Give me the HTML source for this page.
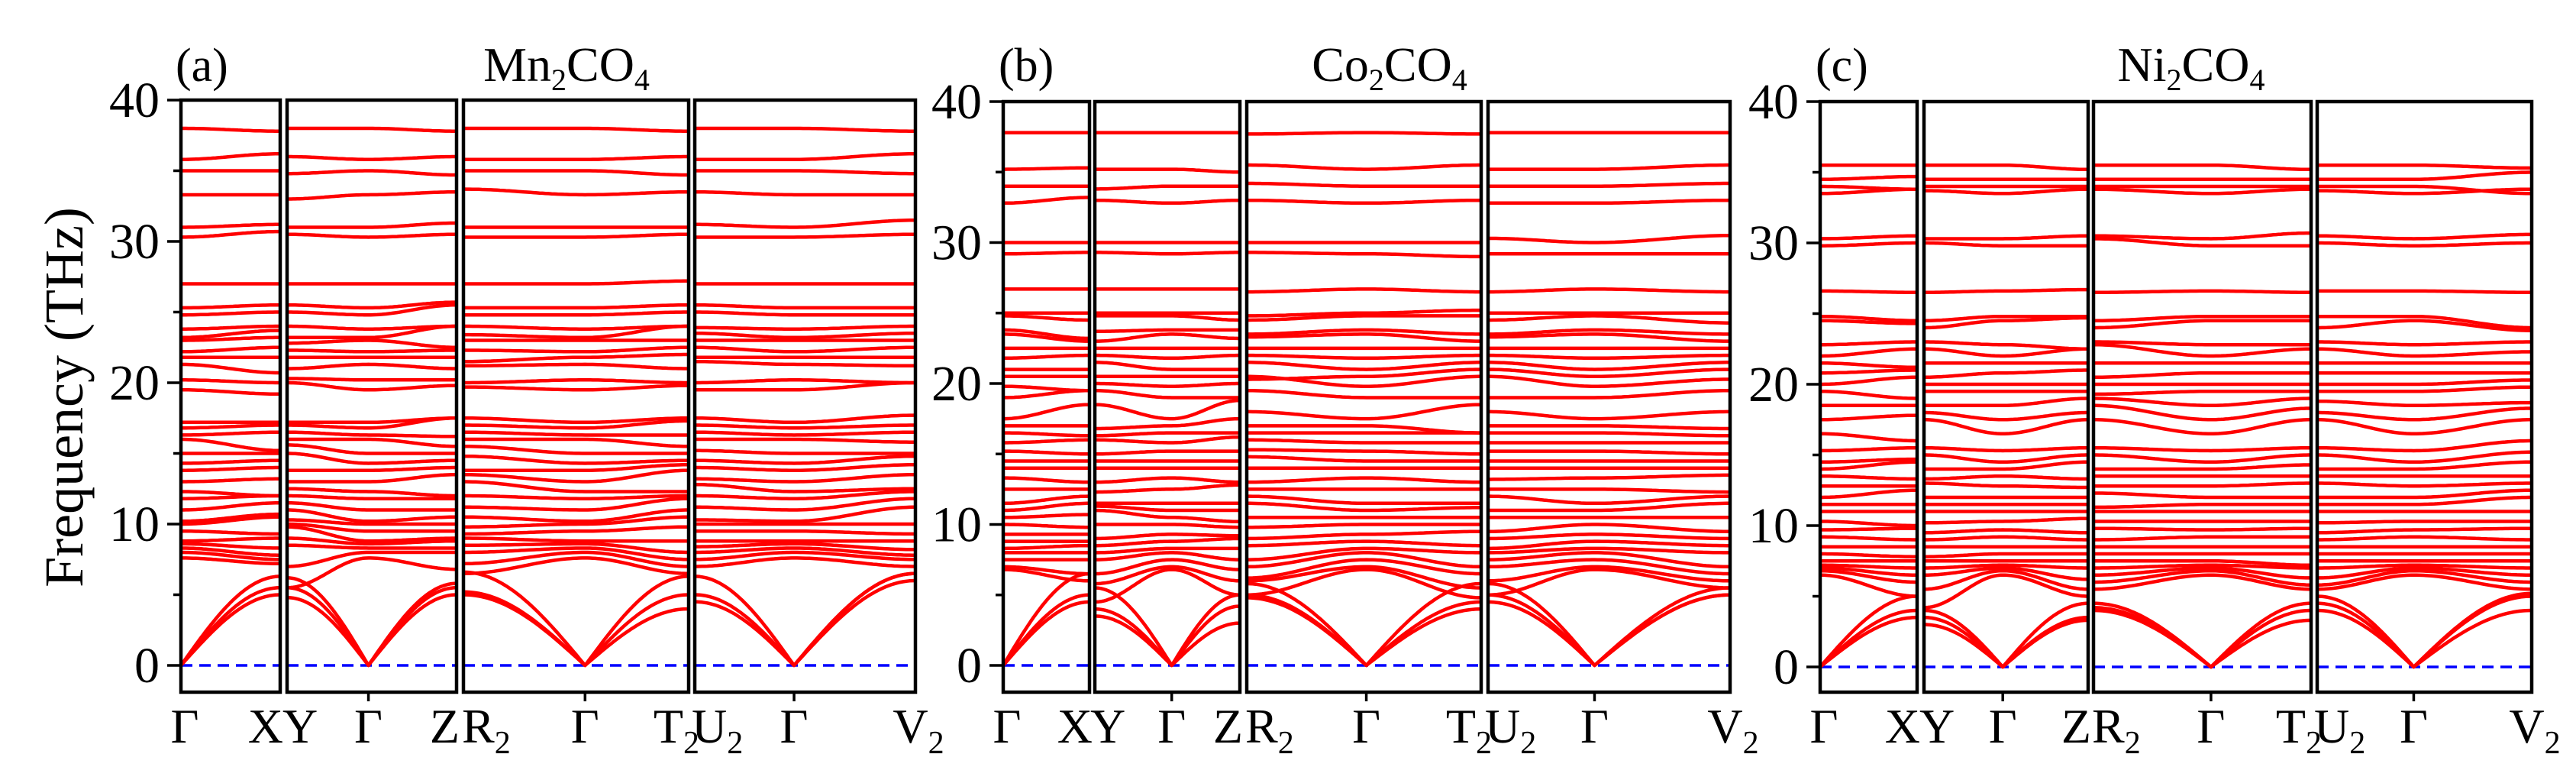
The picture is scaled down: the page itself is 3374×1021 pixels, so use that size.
<!DOCTYPE html>
<html><head><meta charset="utf-8"><style>
html,body{margin:0;padding:0;background:#fff}
svg{display:block}
text{font-family:"Liberation Serif",serif;fill:#000}
</style></head><body>
<svg id="chart" width="3374" height="1021" viewBox="0 0 3374 1021" xmlns="http://www.w3.org/2000/svg">
<text x="84" y="520" font-size="72" text-anchor="middle" transform="rotate(-90 84 520)" dy="24">Frequency (THz)</text>
</svg>
<script>
// band nodes: [Gamma, X, Y, Z, R2, T2, U2, V2]
const yTicks = [0, 10, 20, 30, 40];
const panelTitles = ["Mn", "Co", "Ni"];
const panelLetters = ["(a)", "(b)", "(c)"];
const bandsMn = [
[0,5,4.8,5,5,4,4.5,6],[0,5.5,5.5,5.5,5.2,5,5,6.5],[0,6.3,6.2,5.8,6.6,6.3,6.3,6.5],
[7.6,7.2,5.5,6.8,6.5,6.5,7,7],[8,7.5,7,8,7.2,7,7.5,7.5],[8.3,7.8,8.5,8.3,8,7.5,8,7.8],
[8.6,8.3,9,8.8,8.5,8,8.4,8.2],[8.8,9,9.8,9,9,8.8,8.8,8.8],[9.5,9.3,10,9.5,9.3,9.8,9.5,9.3],
[10,10.5,10.3,10,9.8,10.5,10,10],[10.2,10.7,11,10.5,10.5,11,10.3,11.2],[11,11.5,11.5,11,11.2,11.8,11.2,11.8],
[11.8,12,12,11.8,12,12,12,12.3],[12.3,12,12.5,12,13,12.3,12.8,12.5],[13,13.2,13,13.5,13.5,13.8,13.2,13.5],
[13.8,14,13.8,14,13.8,14.2,14,14.2],[14.3,14.5,15,14.5,14.8,14.5,14.5,14.8],[15,15,15.6,15,15.5,15,15.2,15],
[16,15.2,16,15.5,16,15.5,16,15.8],[16.3,16.5,16.5,16.2,16.5,16.3,16.5,16.5],[16.8,17,17,17.5,17,17.3,17,17],
[17.2,17.2,17.2,17.5,17.5,17.5,17.5,17.7],[19.5,19.2,20,19.8,19.7,19.8,19.5,20],[20.2,20,20.3,20.2,20,20,20,20],
[21.3,20.7,21,21,21.2,21,21.5,21.2],[21.8,21.8,21.8,21.8,21.5,22,21.8,21.8],[22.2,22.5,22.3,22.3,22.3,22.5,22.5,22.5],
[23,23.2,22.8,22.5,23,23,23,23],[23.2,23.7,23.2,24,23.4,24,23.5,23.5],[23.8,24,24,24,24,24,23.9,24],
[24.8,25,25,25.5,24.8,25,25,24.8],[25.3,25.5,25.5,25.7,25.3,25.5,25.5,25.3],[27,27,27,27,27,27.2,27,27],
[30.3,30.7,30.5,30.5,30.3,30.5,30.3,30.5],[31,31.2,31,31.3,31,31,31.2,31.5],[33.3,33.3,33,33.5,33.7,33.5,33.5,33.3],
[35,35,34.8,34.7,35,34.7,35,34.8],[35.8,36.2,36,36,35.8,36,35.8,36.2],[38,37.8,38,37.8,38,37.8,38,37.8]
];
const bandsCo = [
[0,4.5,3.5,3,4.8,4,4.5,5],[0,5,4,4.2,5,4.5,5,5],[0,6.5,5.5,5,5.8,5.8,5.8,5.5],
[6.8,6,4.5,5,5,4.8,5,5.5],[7,6.5,5.8,6,6,5.5,6,6],[7.5,7.5,6.5,6.8,6.2,6.5,7,6.5],
[8,8,7.5,7.5,7,7,7.5,7],[8.3,8.5,8,8.3,7.5,8,8,8],[8.8,8.8,8.5,9,8.5,8.5,8.3,8.5],
[9.3,9.3,9,9.2,9,9.5,9,9],[10,9.8,10,9.8,9.8,10,9.5,9.5],[10.5,10.7,11,10.2,10.5,10.5,10.5,10.5],
[11,11.5,11.3,11,11.5,11.2,11,11.5],[11.5,12,11.5,11.5,12,11.5,12,12],[12.5,12.5,12.3,12.8,12.5,12.5,12.5,12.3],
[13.3,13,13,13,13,13,13.2,13.5],[14,14,14,14,14,14,14,14],[14.5,14.5,14.5,14.5,14.8,14.5,14.5,14.5],
[15.2,15,15,15.2,15.3,15,15.2,15],[15.8,16,16,16.2,16,15.8,15.8,15.8],[16.5,16.3,16.3,16.5,16.5,16.5,16.5,16.3],
[17,17,16.8,17.5,17,16.5,17,16.8],[17.5,18.5,18.5,18.8,18,18.5,18,18],[19,19.5,19.5,19,19.5,19,19,19.5],
[19.8,19.5,20,20,20.5,20.5,20.5,20.3],[20.5,20.5,20.5,20.5,20.3,21,21,21],[21,21,21.5,21,21.5,21.5,21.5,21.5],
[21.8,22,22,22,22,22,22,22],[22.5,22.5,22.5,22.5,22.5,22.5,22.5,22.5],[23.5,23,23,23.2,23.3,23,23.3,23],
[23.8,23.2,23.7,23.8,23.5,23.5,23.5,23.5],[24.8,24.5,24.8,24.5,24.5,24.8,24.5,24.3],[25,25,25,25,24.8,25.2,25,25],
[26.7,26.7,26.7,26.7,26.5,26.5,26.5,26.5],[29.2,29.3,29.3,29.3,29.3,29,29.2,29.2],[30,30,30,30,30,30,30.3,30.5],
[32.8,33.2,33,33,33,33,32.8,33],[34,34,33.8,34,34.2,34,34,34.2],[35.2,35.3,35.2,35,35.5,35.5,35.2,35.5],
[37.8,37.8,37.8,37.8,37.7,37.7,37.8,37.8]
];
const bandsNi = [
[0,3.5,3,3.3,4,3.3,4,4],[0,4,3.5,3.5,4.2,4,4.5,5],[0,5,4,4.5,4.5,4.5,5,5.2],
[6.5,5,4.2,5,5.5,5.5,5.5,5.5],[6.8,6,5.5,5.5,6,5.8,5.8,6],[7,6.5,6.5,6.2,6.5,6.3,6.3,6.5],
[7.2,7,7,7,7,7,7,7],[7.5,7.5,7.5,7.5,7.5,7.2,7.5,7.5],[8,7.8,7.8,8,8,8,8,8],
[8.5,8.5,8.5,8.5,8.5,8.5,8.5,8.5],[9.2,9,9,9,9,9.2,9,9],[9.7,9.8,9.5,9.5,9.8,9.8,9.5,9.8],
[10.3,10,10.2,10.5,10.3,10.3,10.2,10.3],[11,11,11,11,11,11,11,11],[11.5,11.5,11.5,11.5,11.3,11.5,11.5,12],
[12,12.5,12,12,12.3,12,12,12.5],[12.8,12.8,13,12.7,12.8,13,13,13],[13.5,13.3,13.3,13.3,13.5,13.5,13.5,13.5],
[14,14.5,14,14.5,14,14.3,14,14.5],[14.5,14.7,15,15,15,15,15,15.2],[15.3,15.5,15.5,15.5,15.5,15.5,15.5,16],
[16.5,16,17.5,17.5,17.5,17.5,17.5,17.5],[17.5,17.8,18,18,18.5,18.3,18,18.3],[18.5,18.5,18.5,19,19,19,18.8,18.7],
[19.5,19,19.5,19.5,19.3,19.5,19.5,19.8],[20,20.5,20,20,20,20,20,20.3],[20.8,21,20.5,21,20.5,20.8,20.8,20.8],
[21.5,21.2,21.5,21.5,21.5,21.5,21.5,21.5],[22,22.5,22.5,22.5,22.8,22.5,22.5,22.3],[22.8,23,23,22.5,23,22.8,23,23],
[24.5,24.3,24,24.7,24,24.5,24,23.8],[24.8,24.5,24.5,24.8,24.5,24.8,24.8,24],[26.6,26.5,26.5,26.7,26.5,26.5,26.6,26.5],
[29.8,30,30,29.8,30.3,29.8,30,30],[30.3,30.5,30.3,30.5,30.5,30.7,30.5,30.6],[33.5,33.8,33.7,33.8,33.8,33.8,33.7,33.8],
[34,33.8,34,34,34,34,34,33.5],[34.5,34.7,34.5,34.5,34.5,34.5,34.5,35],[35.5,35.5,35.5,35.2,35.5,35.2,35.5,35.3]
];
const allBands = [bandsMn, bandsCo, bandsNi];

// layout (not data)
const layout = [
 {frames:[[237,367],[376,598],[607,902],[910,1199]], g:[0.48,0.54,0.45], top:131, zero:871, bottom:906, title:742, letter:230},
 {frames:[[1314,1427],[1434,1624],[1633,1940],[1949,2266]], g:[0.53,0.51,0.44], top:133, zero:871, bottom:906, title:1820, letter:1308},
 {frames:[[2384,2511],[2520,2735],[2742,3027],[3035,3316]], g:[0.48,0.54,0.45], top:133, zero:873, bottom:906, title:2870, letter:2378}
];
const NS = "http://www.w3.org/2000/svg";
const svg = document.getElementById("chart");
function mk(tag, attrs, parent){const e=document.createElementNS(NS,tag);for(const k in attrs)e.setAttribute(k,attrs[k]);(parent||svg).appendChild(e);return e;}
function interp(a,b,t,fromGamma){
  if(fromGamma===0 && a===0) return b*Math.sin(t*Math.PI/2);
  if(fromGamma===1 && b===0) return a*Math.sin((1-t)*Math.PI/2);
  return a+(b-a)*(1-Math.cos(Math.PI*t))/2;
}
layout.forEach((L,pi)=>{
  const g = mk("g",{});
  
  
  const yS = v => L.zero + (L.top - L.zero) * v / 40;
  const clip = mk("clipPath",{id:"clip"+pi},g);
  L.frames.forEach(f=>mk("rect",{x:f[0],y:L.top,width:f[1]-f[0],height:L.bottom-L.top},clip));
  L.frames.forEach(f=>{
    const z = mk("line",{x1:f[0],x2:f[1],y1:yS(0),y2:yS(0),stroke:"#0000ff","stroke-width":3.5,"stroke-dasharray":"15 9"},g);
    
    
  });
  const bg = mk("g",{"clip-path":"url(#clip"+pi+")"},g);
  const bands = allBands[pi];
  bands.forEach((b,bi)=>{
    const segs = [
      {f:L.frames[0], nodes:[b[0],b[1]]},
      {f:L.frames[1], nodes:[b[2],b[0],b[3]], gf:L.g[0]},
      {f:L.frames[2], nodes:[b[4],b[0],b[5]], gf:L.g[1]},
      {f:L.frames[3], nodes:[b[6],b[0],b[7]], gf:L.g[2]}
    ];
    let d="";
    segs.forEach(s=>{
      const x0=s.f[0], x1=s.f[1], N=40;
      let pts=[];
      if(s.nodes.length===2){
        for(let i=0;i<=N;i++){const t=i/N;pts.push([x0+(x1-x0)*t, interp(s.nodes[0],s.nodes[1],t,0)]);}
      } else {
        const xg = x0+(x1-x0)*s.gf;
        for(let i=0;i<=N;i++){const t=i/N;pts.push([x0+(xg-x0)*t, interp(s.nodes[0],s.nodes[1],t,1)]);}
        for(let i=1;i<=N;i++){const t=i/N;pts.push([xg+(x1-xg)*t, interp(s.nodes[1],s.nodes[2],t,0)]);}
      }
      d += "M"+pts.map(p=>p[0].toFixed(1)+","+yS(p[1]).toFixed(1)).join("L");
    });
    const p = mk("path",{d:d,fill:"none",stroke:"#ff0000","stroke-width":4.5,"stroke-linejoin":"round"},bg);
    
    
  });
  L.frames.forEach((f,fi)=>{
    const r = mk("rect",{x:f[0],y:L.top,width:f[1]-f[0],height:L.bottom-L.top,fill:"none",stroke:"#000","stroke-width":4.5},g);
    
    
  });
  const x0 = L.frames[0][0];
  for(let v=0; v<=40; v+=5){
    const major = yTicks.indexOf(v)>=0;
    mk("line",{x1:x0-(major?18:10),x2:x0,y1:yS(v),y2:yS(v),stroke:"#000","stroke-width":3.5},g);
  }
  yTicks.forEach(v=>{
    const t = mk("text",{x:x0-28,y:yS(v)+22,"font-size":66,"text-anchor":"end"},g);
    t.textContent = v;
    
    
  });
  const gxs = [L.frames[1][0]+(L.frames[1][1]-L.frames[1][0])*L.g[0], L.frames[2][0]+(L.frames[2][1]-L.frames[2][0])*L.g[1], L.frames[3][0]+(L.frames[3][1]-L.frames[3][0])*L.g[2]];
  gxs.forEach(x=>mk("line",{x1:x,x2:x,y1:L.bottom,y2:L.bottom+12,stroke:"#000","stroke-width":3.5},g));
  const ly = 972;
  const labels = [
    [x0+5,"Γ","","middle"],[L.frames[0][1]+4,"X","","end"],[L.frames[1][0]-6,"Y","","start"],
    [gxs[0],"Γ","","middle"],[L.frames[1][1]+4,"Z","","end"],[L.frames[2][0]-2,"R","2","start"],
    [gxs[1],"Γ","","middle"],[L.frames[2][1]+14,"T","2","end"],[L.frames[3][0]-4,"U","2","start"],
    [gxs[2],"Γ","","middle"],[L.frames[3][1]+4,"V","2","middle"]
  ];
  labels.forEach(l=>{
    const t = mk("text",{x:l[0],y:ly,"font-size":64,"text-anchor":l[3]},g);
    t.textContent = l[1];
    if(l[2]){const s=document.createElementNS(NS,"tspan");s.setAttribute("font-size","42");s.setAttribute("dy","14");s.textContent=l[2];t.appendChild(s);}
    
    
  });
  const lt = mk("text",{x:L.letter,y:106,"font-size":62},g);
  lt.textContent = panelLetters[pi];
  
  
  const tt = mk("text",{x:L.title,y:106,"font-size":64,"text-anchor":"middle"},g);
  tt.innerHTML = panelTitles[pi]+'<tspan font-size="40" dy="12">2</tspan><tspan dy="-12">CO</tspan><tspan font-size="40" dy="12">4</tspan>';
  
  
});
</script>
</body></html>
